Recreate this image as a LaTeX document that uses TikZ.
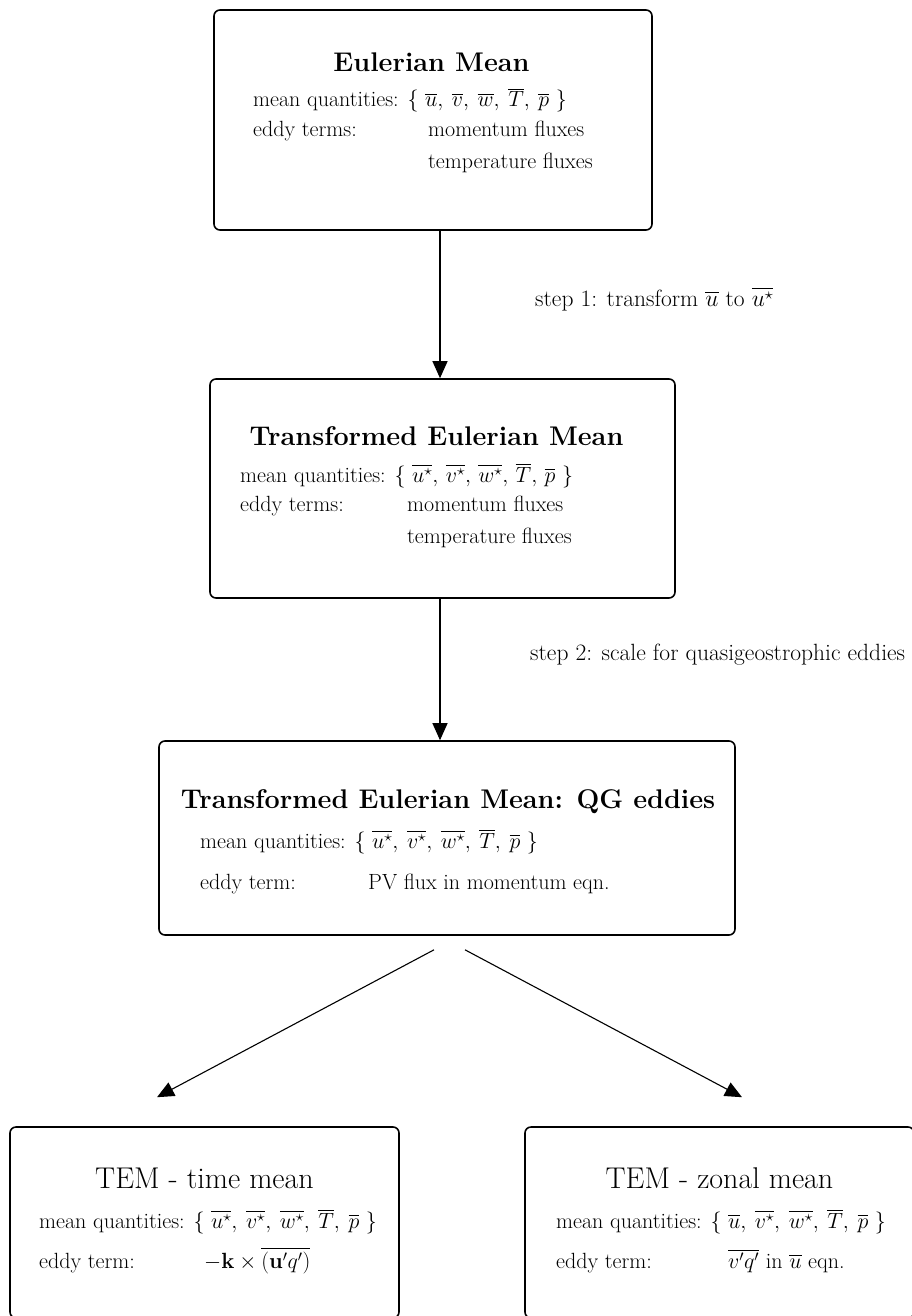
\RequirePackage{fix-cm}
\documentclass[tikz,border=0pt]{standalone}
\usepackage{amsmath}
\usetikzlibrary{arrows.meta, positioning, calc}

\begin{document}
\begin{tikzpicture}[x=1pt, y=-1pt,
  box/.style={draw, line width=1.6pt, rounded corners=6pt, inner sep=0pt},
  arr/.style={-{Triangle[width=15pt,length=17pt]}, line width=1.1pt},
  ttl/.style={anchor=base, inner sep=0pt, font=\fontsize{27}{32}\bfseries},
  ttlr/.style={anchor=base, inner sep=0pt, font=\fontsize{30}{36}\selectfont},
  txt/.style={anchor=base west, inner sep=0pt, font=\fontsize{22}{26}\selectfont},
  stp/.style={anchor=base west, inner sep=0pt, font=\fontsize{23.5}{28}\selectfont}]
\useasboundingbox (0,0) rectangle (911,1316);

% boxes
\node[box, minimum width=438pt, minimum height=220pt] (em)  at (433,120) {};
\node[box, minimum width=465pt, minimum height=219pt] (tem) at (442.5,488.5) {};
\node[box, minimum width=576pt, minimum height=194pt] (qg)  at (447,838) {};
\node[box, minimum width=389pt, minimum height=191pt] (tm)  at (204.5,1222.5) {};
\node[box, minimum width=389pt, minimum height=191pt] (zm)  at (719.5,1222.5) {};

% Eulerian mean
\node[ttl] (emT) at (431.5,72) {Eulerian Mean};
\node[txt] (emQ) at (253,107) {mean quantities: $\{$ $\overline{u},\:\overline{v},\:\overline{w},\:\overline{T},\:\overline{p}$ $\}$};
\node[txt] (emE) at (253,137) {eddy terms:};
\node[txt] (emM) at (428,137) {momentum fluxes};
\node[txt] (emH) at (428,168) {temperature fluxes};

% transformed Eulerian mean
\node[ttl] (temT) at (436.5,445) {Transformed Eulerian Mean};
\node[txt] (temQ) at (240,482) {mean quantities: $\{$ $\overline{u^\star},\,\overline{v^\star},\,\overline{w^\star},\,\overline{T},\,\overline{p}$ $\}$};
\node[txt] (temE) at (240,511) {eddy terms:};
\node[txt] (temM) at (407,511) {momentum fluxes};
\node[txt] (temH) at (407,543) {temperature fluxes};

% QG eddies
\node[ttl] (qgT) at (448,808) {Transformed Eulerian Mean: QG eddies};
\node[txt] (qgQ) at (200,848) {mean quantities: $\{$ $\overline{u^\star},\:\overline{v^\star},\:\overline{w^\star},\:\overline{T},\:\overline{p}$ $\}$};
\node[txt] (qgE) at (200,889) {eddy term:};
\node[txt] (qgP) at (368,889) {PV flux in momentum eqn.};

% time mean
\node[ttlr] (tmT) at (204.5,1188) {TEM - time mean};
\node[txt] (tmQ) at (39,1228) {mean quantities: $\{$ $\overline{u^\star},\:\overline{v^\star},\:\overline{w^\star},\:\overline{T},\:\overline{p}$ $\}$};
\node[txt] (tmE) at (39,1268) {eddy term:};
\node[txt] (tmK) at (204,1268) {$-\mathbf{k}\times\overline{(\mathbf{u}'q')}$};

% zonal mean
\node[ttlr] (zmT) at (719.5,1188) {TEM - zonal mean};
\node[txt] (zmQ) at (556,1228) {mean quantities: $\{$ $\overline{u},\:\overline{v^\star},\:\overline{w^\star},\:\overline{T},\:\overline{p}$ $\}$};
\node[txt] (zmE) at (556,1268) {eddy term:};
\node[txt] (zmV) at (728,1268) {$\overline{v'q'}$ in $\overline{u}$ eqn.};

% steps
\coordinate (a1) at ([xshift=7pt]em.south);
\coordinate (a2) at ([xshift=-2.5pt]tem.south);
\draw[arr] (a1) -- (a1 |- tem.north);
\draw[arr] (a2) -- (a2 |- qg.north);
\node[stp] (s1) at (535,306) {step 1: transform $\overline{u}$ to $\overline{u^\star}$};
\node[stp] (s2) at (530,660) {step 2: scale for quasigeostrophic eddies};

% split into the two means
\coordinate (qgL) at ([xshift=-13pt,yshift=-14pt]qg.south);
\coordinate (qgR) at ([xshift=18pt,yshift=-14pt]qg.south);
\coordinate (tmA) at ([xshift=-47.5pt,yshift=29pt]tm.north);
\coordinate (zmA) at ([xshift=22.5pt,yshift=29pt]zm.north);
\draw[arr] (qgL) -- (tmA);
\draw[arr] (qgR) -- (zmA);
\end{tikzpicture}
\end{document}
